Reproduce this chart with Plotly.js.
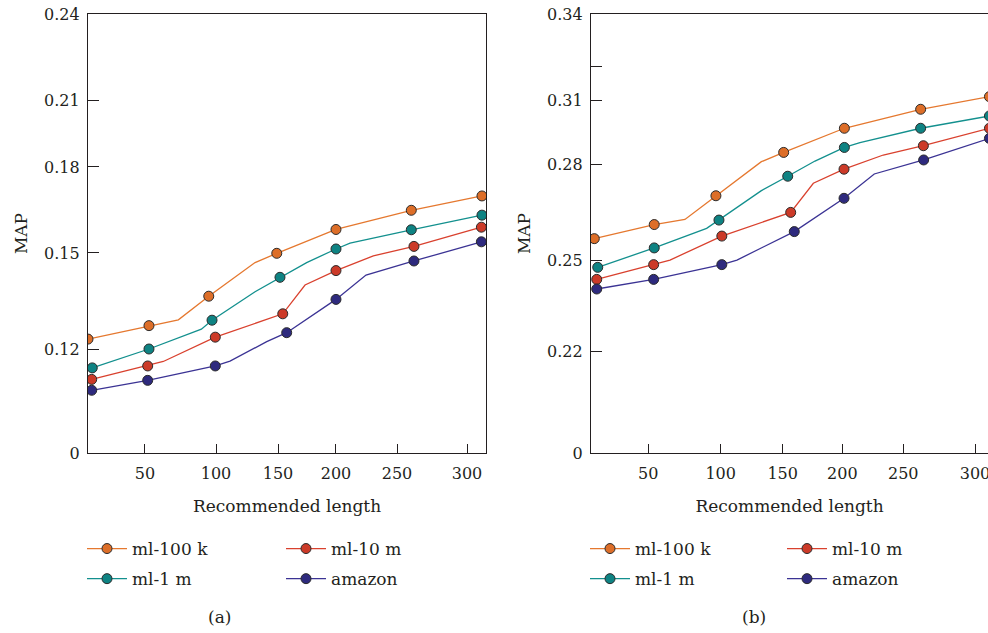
<!DOCTYPE html>
<html><head><meta charset="utf-8">
<script src="https://cdn.plot.ly/plotly-3.0.1.min.js"></script>
<style>html,body{margin:0;padding:0;background:#fff}#chart{width:988px;height:633px}</style>
</head><body><div id="chart"></div>
<script>
// ================= DATA =================
const seriesNames = ['ml-100 k', 'ml-1 m', 'ml-10 m', 'amazon'];

// ---- panel (a) ---- (mark: 1 = plotted point with marker, 0 = bend of the polyline)
const a_ml100k_x = [10, 52.8, 73.5, 94.9, 131.5, 149, 200, 260.2, 310.7];
const a_ml100k_y = [0.1231, 0.1273, 0.1291, 0.1365, 0.147, 0.1499, 0.1582, 0.1649, 0.1699];
const a_ml100k_mark = [1, 1, 0, 1, 0, 1, 1, 1, 1];

const a_ml1m_x = [13, 52.8, 89.7, 97.2, 131.5, 151.7, 174.7, 200, 211.5, 260.2, 310.7];
const a_ml1m_y = [0.1141, 0.12, 0.1262, 0.129, 0.1379, 0.1424, 0.147, 0.1514, 0.1534, 0.1581, 0.1632];
const a_ml1m_mark = [1, 1, 0, 1, 0, 1, 0, 1, 0, 1, 1];

const a_ml10m_x = [12.6, 51.9, 62.9, 99.5, 154.1, 173.3, 200, 230.6, 262.1, 310.3];
const a_ml10m_y = [0.1105, 0.1147, 0.1161, 0.1237, 0.131, 0.14, 0.1445, 0.1491, 0.1523, 0.159];
const a_ml10m_mark = [1, 1, 0, 1, 1, 0, 1, 0, 1, 1];

const a_amazon_x = [12.6, 51.9, 99.5, 111.3, 140.9, 157.5, 200, 224.6, 262.1, 310.3];
const a_amazon_y = [0.1071, 0.1102, 0.1147, 0.1162, 0.1223, 0.1251, 0.1355, 0.1431, 0.1475, 0.1539];
const a_amazon_mark = [1, 1, 1, 0, 0, 1, 1, 0, 1, 1];

// ---- panel (b) ----
const b_ml100k_x = [12.3, 54.1, 75.3, 96.7, 132.8, 150.8, 201.7, 262.1, 310];
const b_ml100k_y = [0.2569, 0.2613, 0.2629, 0.2703, 0.2814, 0.2857, 0.2969, 0.3057, 0.311];
const b_ml100k_mark = [1, 1, 0, 1, 0, 1, 1, 1, 1];

const b_ml1m_x = [14.7, 54.1, 90.3, 98.8, 132.8, 154.2, 177.1, 201.7, 214.5, 262.1, 310];
const b_ml1m_y = [0.2478, 0.254, 0.2601, 0.2627, 0.2719, 0.2764, 0.2817, 0.288, 0.2902, 0.2969, 0.3026];
const b_ml1m_mark = [1, 1, 0, 1, 0, 1, 0, 1, 0, 1, 1];

const b_ml10m_x = [14, 53.7, 65, 100.9, 156.7, 175.7, 201.4, 233.6, 264, 310];
const b_ml10m_y = [0.2438, 0.2487, 0.2502, 0.2577, 0.2651, 0.2742, 0.2786, 0.2845, 0.2888, 0.2969];
const b_ml10m_mark = [1, 1, 0, 1, 1, 0, 1, 0, 1, 1];

const b_amazon_x = [14, 53.7, 100.9, 113.1, 159.7, 201.4, 226.2, 264.2, 310];
const b_amazon_y = [0.2406, 0.2438, 0.2487, 0.2502, 0.2591, 0.2695, 0.2771, 0.2822, 0.2922];
const b_amazon_mark = [1, 1, 1, 0, 1, 1, 0, 1, 1];

// ---- tick labels ----
const xTickVals = [50, 100, 150, 200, 250, 300];
const aYTickVals = [0, 0.12, 0.15, 0.18, 0.21, 0.24];
const aYTickText = ['0', '0.12', '0.15', '0.18', '0.21', '0.24'];
const bYTickVals = [0, 0.22, 0.25, 0.28, 0.31, 0.32, 0.34];
const bYTickText = ['0', '0.22', '0.25', '0.28', '0.31', '', '0.34'];

// ---- the figure's (non-uniform) axis scales: value -> fraction of the axis length ----
const aXScaleV = [10, 50, 100, 150, 200, 250, 300, 313.6];
const aXScaleF = [0, 0.1432, 0.3216, 0.4774, 0.6231, 0.7764, 0.9523, 1];
const bXScaleV = [10, 50, 100, 150, 200, 250, 300, 309];
const bXScaleF = [0, 0.1443, 0.3267, 0.4829, 0.633, 0.7866, 0.9673, 1];
const aYScaleV = [0, 0.10, 0.12, 0.15, 0.18, 0.21, 0.24];
const aYScaleF = [0, 0.0911, 0.2369, 0.4556, 0.6515, 0.8041, 1];
const bYScaleV = [0, 0.22, 0.25, 0.28, 0.31, 0.32, 0.34];
const bYScaleF = [0, 0.2323, 0.438, 0.6567, 0.8041, 0.88, 1];

// ================= STYLE =================
const lineColors = ['#E5782F', '#13908E', '#D9412E', '#3B3394'];
const fillColors = ['#DD6E28', '#0E8383', '#CC3A28', '#2E2A7E'];
const FONT = 'DejaVu Serif, Liberation Serif, serif';
const INK = '#231f20';

function scale(v, kv, kf) {
  let i = 0;
  while (i < kv.length - 2 && v > kv[i + 1]) i++;
  return kf[i] + (v - kv[i]) / (kv[i + 1] - kv[i]) * (kf[i + 1] - kf[i]);
}

const panels = [
  {xa: 'x', ya: 'y', xs: [aXScaleV, aXScaleF], ys: [aYScaleV, aYScaleF], legends: ['legend', 'legend', 'legend2', 'legend2'],
   series: [[a_ml100k_x, a_ml100k_y, a_ml100k_mark], [a_ml1m_x, a_ml1m_y, a_ml1m_mark], [a_ml10m_x, a_ml10m_y, a_ml10m_mark], [a_amazon_x, a_amazon_y, a_amazon_mark]]},
  {xa: 'x2', ya: 'y2', xs: [bXScaleV, bXScaleF], ys: [bYScaleV, bYScaleF], legends: ['legend3', 'legend3', 'legend4', 'legend4'],
   series: [[b_ml100k_x, b_ml100k_y, b_ml100k_mark], [b_ml1m_x, b_ml1m_y, b_ml1m_mark], [b_ml10m_x, b_ml10m_y, b_ml10m_mark], [b_amazon_x, b_amazon_y, b_amazon_mark]]}
];

const traces = [];
panels.forEach((p, pi) => {
  p.series.forEach((s, si) => {
    const [xv, yv, mk] = s;
    traces.push({
      type: 'scatter', mode: 'lines+markers',
      name: seriesNames[si],
      legend: p.legends[si],
      legendgroup: 'p' + pi + 's' + si,
      xaxis: p.xa, yaxis: p.ya,
      x: xv.map(v => scale(v, p.xs[0], p.xs[1])),
      y: yv.map(v => scale(v, p.ys[0], p.ys[1])),
      customdata: xv.map((v, i) => [v, yv[i]]),
      hovertemplate: 'Length %{customdata[0]}<br>MAP %{customdata[1]}<extra>' + seriesNames[si] + '</extra>',
      line: {color: lineColors[si], width: 1.3},
      marker: {
        symbol: 'circle', size: 10,
        color: mk.map(m => m ? fillColors[si] : 'rgba(0,0,0,0)'),
        line: {width: 1, color: mk.map(m => m ? '#2b2b2b' : 'rgba(0,0,0,0)')}
      },
      cliponaxis: true
    });
  });
});

const W = 988, H = 633, ML = 88, MR = 0, MT = 14, MB = 180;
const PW = W - ML - MR, PH = H - MT - MB;
const px2x = px => (px - ML) / PW;
const py2y = py => (H - MB - py) / PH;

function xAxis(domain, anchor) {
  return {
    domain: domain, anchor: anchor, range: [0, 1],
    tickmode: 'array',
    ticks: 'inside', ticklen: 9, tickwidth: 1.3, tickcolor: INK,
    showline: true, linecolor: INK, linewidth: 1.3, mirror: true,
    showgrid: false, zeroline: false, fixedrange: true,
    tickfont: {family: FONT, size: 16, color: INK},
    ticklabelstandoff: 6,
    ticklabeloverflow: 'allow',
    title: {text: 'Recommended length', font: {family: FONT, size: 17, color: INK}, standoff: 17}
  };
}
function yAxis(anchor, tv, tt, mirror) {
  return {
    domain: [0, 1], anchor: anchor, range: [0, 1],
    tickmode: 'array', tickvals: tv, ticktext: tt,
    ticks: 'inside', ticklen: 11, tickwidth: 1.3, tickcolor: INK,
    showline: true, linecolor: INK, linewidth: 1.3, mirror: mirror,
    showgrid: false, zeroline: false, fixedrange: true,
    tickfont: {family: FONT, size: 16, color: INK},
    ticklabelstandoff: 4,
    title: {text: 'MAP', font: {family: FONT, size: 17, color: INK}, standoff: 12}
  };
}

const xa1 = xAxis([0, px2x(486)], 'y');
xa1.tickvals = xTickVals.map(v => scale(v, aXScaleV, aXScaleF));
xa1.ticktext = xTickVals.map(String);
const xa2 = xAxis([px2x(591), 1], 'y2');
xa2.tickvals = xTickVals.map(v => scale(v, bXScaleV, bXScaleF));
xa2.ticktext = xTickVals.map(String);

function legendAt(pxLeft) {
  return {
    x: px2x(pxLeft), y: py2y(531), xanchor: 'left', yanchor: 'top',
    orientation: 'v', bgcolor: 'rgba(0,0,0,0)', borderwidth: 0,
    font: {family: FONT, size: 17, color: INK},
    itemwidth: 40,
    tracegroupgap: 5, itemclick: false, itemdoubleclick: false
  };
}

const layout = {
  width: W, height: H,
  margin: {l: ML, r: MR, t: MT, b: MB, autoexpand: false},
  paper_bgcolor: '#ffffff', plot_bgcolor: '#ffffff',
  font: {family: FONT, size: 16, color: INK},
  showlegend: true,
  hovermode: 'closest',
  xaxis: xa1,
  yaxis: yAxis('x', aYTickVals.map(v => scale(v, aYScaleV, aYScaleF)), aYTickText, true),
  xaxis2: xa2,
  yaxis2: yAxis('x2', bYTickVals.map(v => scale(v, bYScaleV, bYScaleF)), bYTickText, false),
  legend: legendAt(82),
  legend2: legendAt(281),
  legend3: legendAt(585),
  legend4: legendAt(782),
  annotations: [
    {text: '(a)', xref: 'paper', yref: 'paper', x: px2x(219), y: py2y(617), xanchor: 'center', yanchor: 'middle', showarrow: false, font: {family: FONT, size: 17, color: INK}},
    {text: '(b)', xref: 'paper', yref: 'paper', x: px2x(754), y: py2y(617), xanchor: 'center', yanchor: 'middle', showarrow: false, font: {family: FONT, size: 17, color: INK}}
  ]
};

Plotly.newPlot('chart', traces, layout, {displayModeBar: false, responsive: false});
</script>
</body></html>
